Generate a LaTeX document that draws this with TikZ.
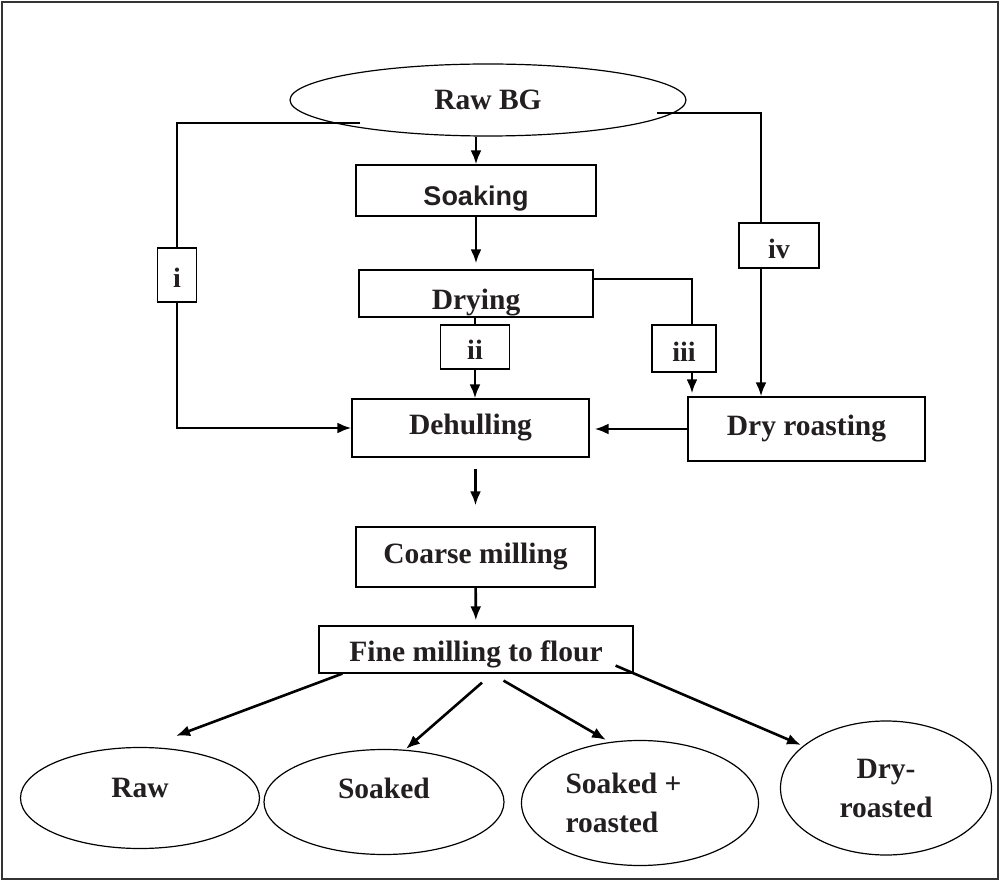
\documentclass[tikz,border=0pt]{standalone}
\usepackage{fontspec}
\setmainfont{Liberation Serif}
\newfontfamily\arialfont{Liberation Sans}
\usetikzlibrary{arrows.meta,shapes.geometric}
\definecolor{ink}{HTML}{231F20}

\begin{document}
\begin{tikzpicture}[x=1pt,y=-1pt,
    box/.style={draw,line width=1.2pt,inner sep=0pt,text=ink,
        font=\fontsize{29.5}{34}\selectfont\bfseries},
    oval/.style={ellipse,draw,line width=1.2pt,inner sep=0pt,text=ink,
        font=\fontsize{29.5}{39}\selectfont\bfseries},
    tag/.style={draw,fill=white,line width=1.2pt,inner sep=0pt,text=ink,
        text height=26pt,text depth=0pt,font=\fontsize{28}{30}\selectfont\bfseries},
    ln/.style={line width=2.6pt},
    arr/.style={ln,-{Latex[length=14pt,width=11pt]}}]

    \useasboundingbox (0,0) rectangle (1002,882);
    \draw[line width=2pt,black!80] (2,2) rectangle (998,879);

    % Process steps
    \node[oval,minimum width=396pt,minimum height=72pt] (rawbg) at (488,100) {Raw BG};
    \node[box,minimum width=240pt,minimum height=51pt,text height=37pt,text depth=6pt,
        font=\arialfont\bfseries\fontsize{27}{30}\selectfont] (soaking) at (476,190.5) {Soaking};
    \node[box,minimum width=234pt,minimum height=47pt,text height=40pt,text depth=7pt] (drying) at (476,293.5) {Drying};
    \node[box,minimum width=237pt,minimum height=58pt] (dehulling) at (470.5,428) {Dehulling};
    \node[box,minimum width=237pt,minimum height=64pt] (dryroast) at (806.5,429) {Dry roasting};
    \node[box,minimum width=239pt,minimum height=60pt] (coarse) at (475.5,557) {Coarse milling};
    \node[box,minimum width=314pt,minimum height=47pt,text height=30pt,text depth=6pt] (fine) at (476,649.5) {Fine milling to flour};

    % Route labels
    \node[tag,minimum width=39pt,minimum height=54pt] (i) at (177,275) {i};
    \node[tag,minimum width=69pt,minimum height=44pt] (ii) at (475,347) {ii};
    \node[tag,minimum width=64pt,minimum height=47pt] (iii) at (684,348.5) {iii};
    \node[tag,minimum width=80pt,minimum height=45pt] (iv) at (779,245.5) {iv};

    % Flours
    \node[oval,minimum width=239pt,minimum height=101pt,text height=20pt,text depth=22pt] (raw) at (140,798) {Raw};
    \node[oval,minimum width=240pt,minimum height=105pt,text height=20pt,text depth=28pt] (soaked) at (384,802) {Soaked};
    \node[oval,minimum width=237pt,minimum height=125pt,align=left] (soakroast) at (640,803) {Soaked +\rule{33pt}{0pt}\\roasted};
    \node[oval,minimum width=211pt,minimum height=134pt,align=center] (dryroasted) at (886,788) {Dry-\\roasted};

    \coordinate (istart) at (360,123);
    \coordinate (ivstart) at (657,113);

    % Main line
    \draw[arr] (rawbg.south -| soaking.north) -- (soaking.north);
    \draw[arr,shorten >=6pt] (soaking) -- (drying);
    \draw[ln] (drying.south -| ii.north) -- (ii.north);
    \draw[arr] (ii.south) -- (ii.south |- dehulling.north);
    \draw[arr,shorten <=11pt,shorten >=21pt] (dehulling.south -| coarse.north) -- (coarse.north);
    \draw[arr,shorten >=5pt] (coarse) -- (fine);

    % Side routes
    \draw[ln] (istart) -| (i.north);
    \draw[arr] (i.south) |- (dehulling.west);
    \draw[ln] ([yshift=14.5pt]drying.east) -| ([xshift=8pt]iii.north);
    \draw[arr,shorten >=3pt] ([xshift=8pt]iii.south) -- ([xshift=8pt]iii.south |- dryroast.north);
    \draw[ln] (ivstart) -| ([xshift=-18pt]iv.north);
    \draw[arr] ([xshift=-18pt]iv.south) -- ([xshift=-18pt]iv.south |- dryroast.north);
    \draw[arr,shorten >=5pt] (dryroast.west) -- (dryroast.west -| dehulling.east);

    % Fan out to the flours
    \draw[arr] ([xshift=24pt]fine.south west) -- ([xshift=36pt,yshift=11pt]raw.north);
    \draw[arr] ([xshift=6pt,yshift=-9pt]fine.south) -- ([xshift=22pt]soaked.north);
    \draw[arr] ([xshift=27.5pt,yshift=-7pt]fine.south) -- ([xshift=-34pt]soakroast.north);
    \draw[arr] ([xshift=-18pt,yshift=8pt]fine.south east) -- ([xshift=-85pt,yshift=43pt]dryroasted.center);

\end{tikzpicture}
\end{document}
